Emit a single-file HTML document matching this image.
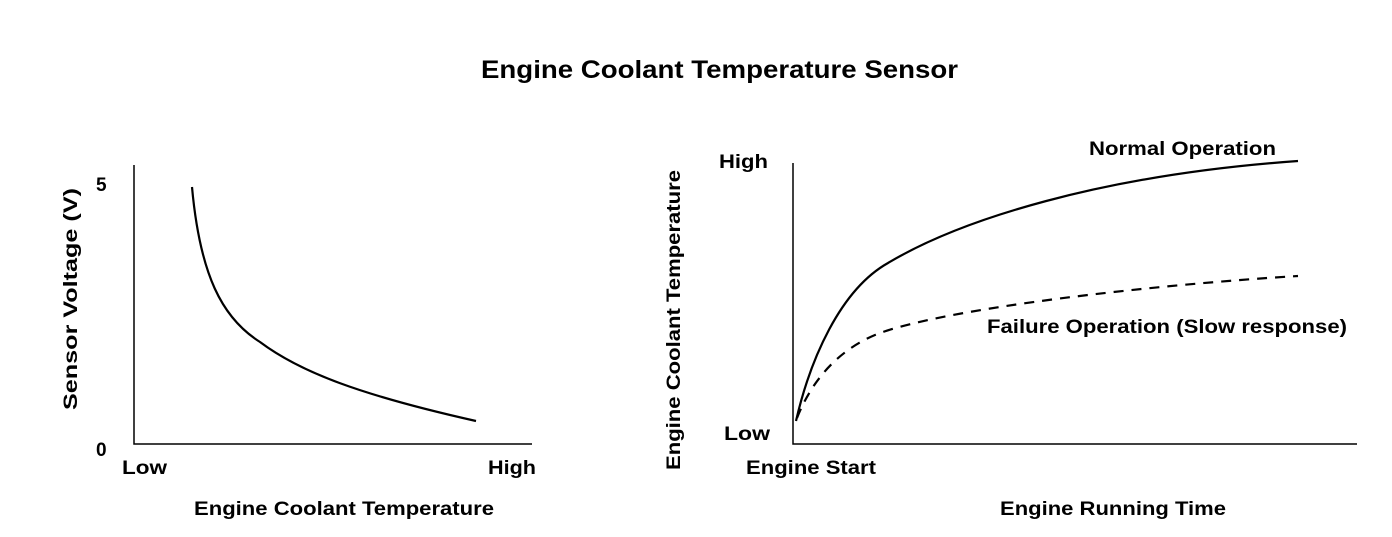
<!DOCTYPE html>
<html><head><style>body{margin:0;background:#fff}</style></head><body>
<svg width="1392" height="532" xmlns="http://www.w3.org/2000/svg" font-family="Liberation Sans, sans-serif" font-weight="bold">
<text x="481" y="78" font-size="25" textLength="477" lengthAdjust="spacingAndGlyphs">Engine Coolant Temperature Sensor</text>
<g stroke="#000" stroke-width="1.5" fill="none">
<path d="M134 165V444H532"/>
<path d="M793 163V444H1357"/>
</g>
<g stroke="#000" stroke-width="2.2" fill="none">
<path d="M192 187C200 275 222 318 260 342C300 372 360 395 476 421"/>
<path d="M796 421C810 360 840 290 888 263C960 220 1100 175 1298 161"/>
<path d="M797 418C810 385 835 350 880 333C950 308 1150 285 1298 276" stroke-dasharray="10,8"/>
</g>
<g font-size="19">
<text x="96" y="191">5</text>
<text x="96" y="456">0</text>
<text x="122" y="474" textLength="45" lengthAdjust="spacingAndGlyphs">Low</text>
<text x="488" y="474" textLength="48" lengthAdjust="spacingAndGlyphs">High</text>
<text x="194" y="515" textLength="300" lengthAdjust="spacingAndGlyphs">Engine Coolant Temperature</text>
<text transform="translate(77,410) rotate(-90)" textLength="222" lengthAdjust="spacingAndGlyphs">Sensor Voltage (V)</text>
<text x="719" y="168" textLength="49" lengthAdjust="spacingAndGlyphs">High</text>
<text x="724" y="440" textLength="46" lengthAdjust="spacingAndGlyphs">Low</text>
<text x="1089" y="155" textLength="187" lengthAdjust="spacingAndGlyphs">Normal Operation</text>
<text x="987" y="333" textLength="360" lengthAdjust="spacingAndGlyphs">Failure Operation (Slow response)</text>
<text x="746" y="474" textLength="130" lengthAdjust="spacingAndGlyphs">Engine Start</text>
<text x="1000" y="515" textLength="226" lengthAdjust="spacingAndGlyphs">Engine Running Time</text>
<text transform="translate(680,470) rotate(-90)" textLength="300" lengthAdjust="spacingAndGlyphs">Engine Coolant Temperature</text>
</g>
</svg>
</body></html>
